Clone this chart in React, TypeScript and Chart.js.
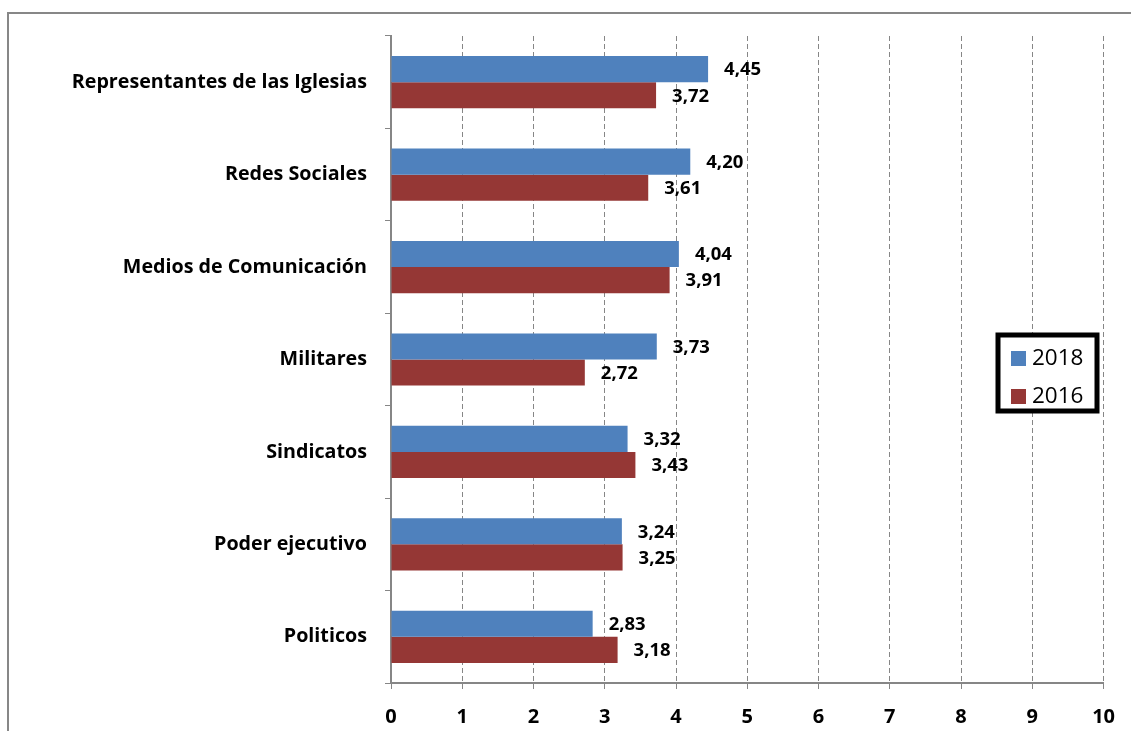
import React, { useEffect, useRef } from "react";
import { Chart, registerables } from "chart.js";

Chart.register(...registerables);

const categories = [
  "Representantes de las Iglesias",
  "Redes Sociales",
  "Medios de Comunicación",
  "Militares",
  "Sindicatos",
  "Poder ejecutivo",
  "Politicos",
];
const values2018 = [4.45, 4.2, 4.04, 3.73, 3.32, 3.24, 2.83];
const values2016 = [3.72, 3.61, 3.91, 2.72, 3.43, 3.25, 3.18];
const seriesLabels = ["2018", "2016"];
const xTicks = [0, 1, 2, 3, 4, 5, 6, 7, 8, 9, 10];

const BLUE = "#4F81BD";
const RED = "#953735";
const FONT = "'Open Sans', Lato, sans-serif";

const framePlugin = {
  id: "frame",
  beforeDraw(chart: any) {
    const ctx = chart.ctx;
    ctx.save();
    ctx.fillStyle = "#ffffff";
    ctx.fillRect(0, 0, chart.width, chart.height);
    ctx.strokeStyle = "#878787";
    ctx.lineWidth = 2;
    ctx.beginPath();
    ctx.moveTo(8, chart.height + 5);
    ctx.lineTo(8, 13);
    ctx.lineTo(chart.width + 5, 13);
    ctx.stroke();
    ctx.restore();
  },
};

const valueLabelPlugin = {
  id: "valueLabels",
  afterDatasetsDraw(chart: any) {
    const ctx = chart.ctx;
    ctx.save();
    ctx.font = `bold 18.5px ${FONT}`;
    ctx.fillStyle = "#000";
    ctx.textBaseline = "middle";
    ctx.textAlign = "left";
    chart.data.datasets.forEach((ds: any, di: number) => {
      const meta = chart.getDatasetMeta(di);
      meta.data.forEach((bar: any, i: number) => {
        const v = ds.data[i] as number;
        ctx.fillText(v.toFixed(2).replace(".", ","), bar.x + 16, bar.y + 1);
      });
    });
    ctx.restore();
  },
};

const legendPlugin = {
  id: "boxLegend",
  afterDraw(chart: any) {
    const ctx = chart.ctx;
    const x = 998, y = 335, w = 99, h = 76;
    ctx.save();
    ctx.fillStyle = "#fff";
    ctx.fillRect(x, y, w, h);
    ctx.strokeStyle = "#000";
    ctx.lineWidth = 5;
    ctx.strokeRect(x, y, w, h);
    const colors = [BLUE, RED];
    ctx.font = `22.5px ${FONT}`;
    ctx.textBaseline = "middle";
    ctx.fillStyle = "#000";
    seriesLabels.forEach((lab, i) => {
      const cy = 358 + i * 38;
      ctx.fillStyle = colors[i];
      ctx.fillRect(1011, cy - 7, 15, 15);
      ctx.fillStyle = "#000";
      ctx.fillText(lab, 1032, cy + 1);
    });
    ctx.restore();
  },
};

export default function App() {
  const ref = useRef<HTMLCanvasElement | null>(null);
  useEffect(() => {
    if (!ref.current) return;
    const chart = new Chart(ref.current, {
      type: "bar",
      data: {
        labels: categories,
        datasets: [
          { label: seriesLabels[0], data: values2018, backgroundColor: BLUE, borderWidth: 0 },
          { label: seriesLabels[1], data: values2016, backgroundColor: RED, borderWidth: 0 },
        ],
      },
      options: {
        indexAxis: "y",
        responsive: false,
        animation: false,
        devicePixelRatio: 1,
        layout: { padding: { left: 0, top: 36, right: 27, bottom: 0 } },
        datasets: { bar: { barPercentage: 1, categoryPercentage: 0.565 } },
        plugins: { legend: { display: false }, tooltip: { enabled: false } },
        scales: {
          x: {
            type: "linear",
            min: 0,
            max: 10,
            afterBuildTicks(scale: any) {
              scale.ticks = xTicks.map((v) => ({ value: v }));
            },
            afterFit(scale: any) {
              scale.height = 48;
            },
            ticks: {
              color: "#000",
              padding: 16,
              font: { family: FONT, size: 20, weight: "bold" },
            },
            grid: {
              color: "#868686",
              lineWidth: 1,
              drawTicks: true,
              tickLength: 6,
              tickColor: "#868686",
              tickBorderDash: [],
            },
            border: { display: true, color: "#868686", width: 2, dash: [5, 3] },
          },
          y: {
            type: "category",
            afterFit(scale: any) {
              scale.width = 391;
            },
            ticks: {
              color: "#000",
              padding: 18,
              font: { family: FONT, size: 19.7, weight: "bold" },
            },
            grid: {
              offset: true,
              drawOnChartArea: false,
              drawTicks: true,
              tickLength: 6,
              color: "#868686",
              tickColor: "#868686",
            },
            border: { display: true, color: "#868686", width: 2 },
          },
        },
      },
      plugins: [framePlugin, valueLabelPlugin, legendPlugin],
    } as any);
    return () => chart.destroy();
  }, []);
  return (
    <canvas
      ref={ref}
      width={1131}
      height={731}
      style={{ position: "absolute", left: 0, top: 0, display: "block" }}
    />
  );
}
